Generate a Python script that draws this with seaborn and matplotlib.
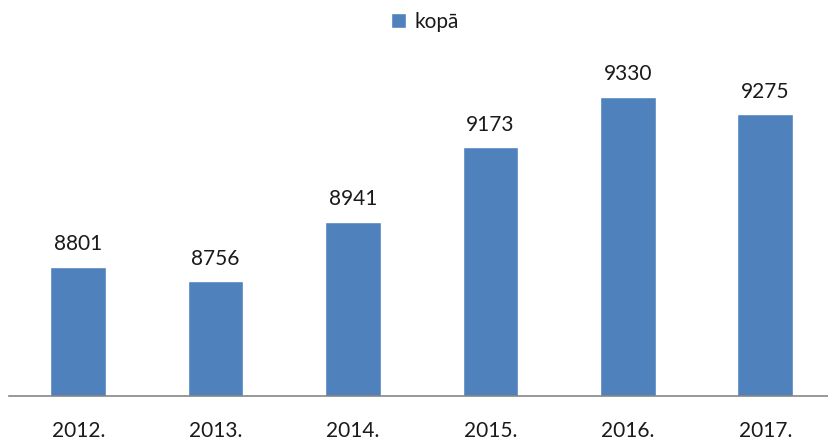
import matplotlib
matplotlib.use("Agg")
import matplotlib.pyplot as plt
from matplotlib.patches import Patch
import seaborn as sns
import pandas as pd

years = ["2012.", "2013.", "2014.", "2015.", "2016.", "2017."]
totals = [8801, 8756, 8941, 9173, 9330, 9275]
series_name = "kopā"

bar_color = "#4F81BD"
axis_color = "#868686"
text_color = "#1a1a1a"

sns.set_theme(style="white")
plt.rcParams["font.family"] = ["Lato", "DejaVu Sans"]

df = pd.DataFrame({"year": years, "total": totals})

fig = plt.figure(figsize=(8.29, 4.41), dpi=100)
ax = fig.add_axes([9 / 829, 1 - 395.7 / 441, 820 / 829, (395.7 - 74.3) / 441])

sns.barplot(data=df, x="year", y="total", color=bar_color, saturation=1,
            width=0.404, ax=ax)

ax.set_ylim(8400, 9400)
ax.set_xlim(-0.504, 5.464)

for c in ax.containers:
    ax.bar_label(c, labels=[str(v) for v in totals], padding=9,
                 fontsize=15, color=text_color)

for side in ["top", "right", "left"]:
    ax.spines[side].set_visible(False)
ax.spines["bottom"].set_color(axis_color)
ax.spines["bottom"].set_linewidth(1.2)
ax.set_yticks([])
ax.set_xlabel("")
ax.set_ylabel("")
ax.tick_params(axis="x", length=0, pad=18, labelsize=15, labelcolor=text_color)

fig.legend(handles=[Patch(facecolor=bar_color, label=series_name)],
           loc="center", bbox_to_anchor=(425 / 829, 1 - 22 / 441),
           frameon=False, fontsize=15, handlelength=0.7, handleheight=0.7,
           handletextpad=0.4, labelcolor=text_color)

fig.savefig("out.png", dpi=100)
